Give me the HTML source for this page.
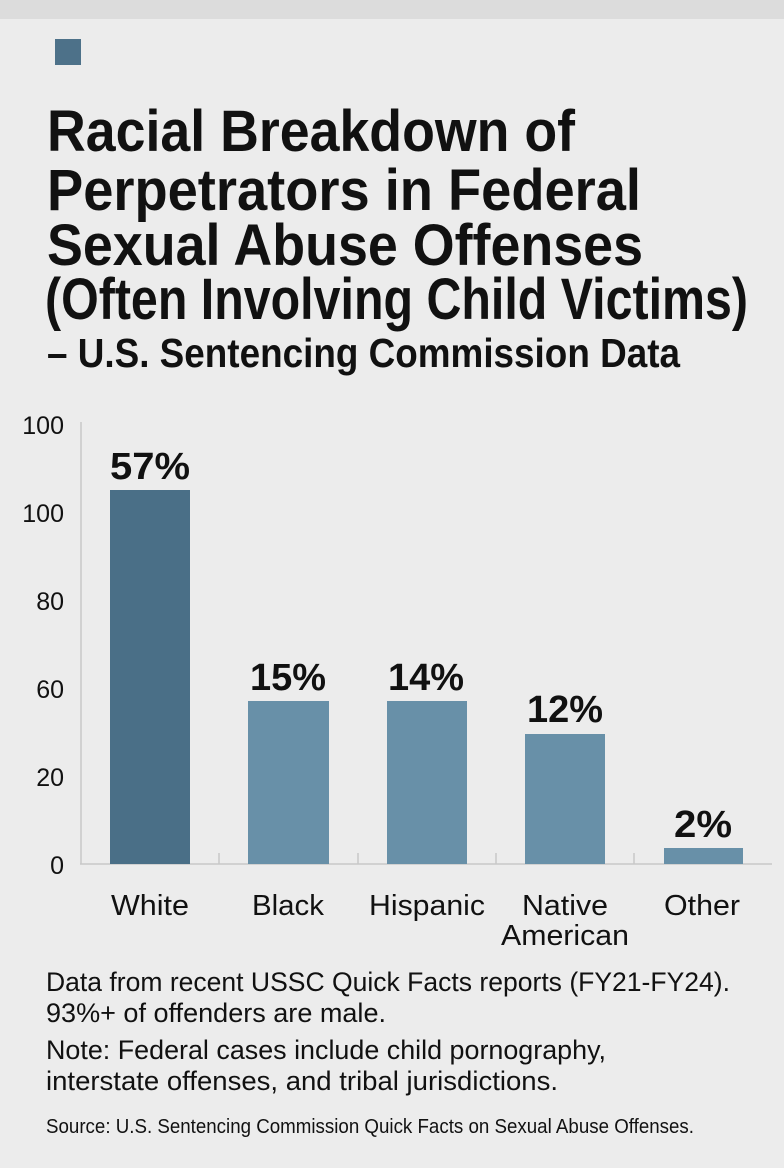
<!DOCTYPE html>
<html><head><style>
html,body{margin:0;padding:0;background:#ececec;}
svg{display:block;}
text{font-family:"Liberation Sans",sans-serif;fill:#111;}
</style></head><body>
<svg width="784" height="1168" viewBox="0 0 784 1168" xmlns="http://www.w3.org/2000/svg">
<rect x="0" y="0" width="784" height="1168" fill="#ececec"/>
<rect x="0" y="0" width="784" height="19" fill="#dcdcdc"/>
<rect x="55" y="39" width="26" height="26" fill="#4d7189"/>
<g font-weight="bold" font-size="58">
<text x="47" y="151" textLength="528" lengthAdjust="spacingAndGlyphs">Racial Breakdown of</text>
<text x="47" y="210" textLength="594" lengthAdjust="spacingAndGlyphs">Perpetrators in Federal</text>
<text x="47" y="265" textLength="596" lengthAdjust="spacingAndGlyphs">Sexual Abuse Offenses</text>
<text x="45" y="319" textLength="703" lengthAdjust="spacingAndGlyphs">(Often Involving Child Victims)</text>
</g>
<text x="47" y="367" font-weight="bold" font-size="41" textLength="633" lengthAdjust="spacingAndGlyphs">– U.S. Sentencing Commission Data</text>
<g font-size="25" fill="#222" text-anchor="end">
<text x="64" y="434">100</text>
<text x="64" y="522">100</text>
<text x="64" y="610">80</text>
<text x="64" y="698">60</text>
<text x="64" y="786">20</text>
<text x="64" y="874">0</text>
</g>
<line x1="81" y1="422" x2="81" y2="864" stroke="#c8c8c8" stroke-width="1.5"/>
<line x1="80" y1="864" x2="772" y2="864" stroke="#c8c8c8" stroke-width="1.5"/>
<g stroke="#c8c8c8" stroke-width="1.5">
<line x1="219" y1="853" x2="219" y2="864"/><line x1="358" y1="853" x2="358" y2="864"/>
<line x1="496" y1="853" x2="496" y2="864"/><line x1="634" y1="853" x2="634" y2="864"/>
</g>
<rect x="110" y="490" width="80" height="374" fill="#4a6f87"/>
<rect x="248" y="701" width="81" height="163" fill="#6890a8"/>
<rect x="387" y="701" width="80" height="163" fill="#6890a8"/>
<rect x="525" y="734" width="80" height="130" fill="#6890a8"/>
<rect x="664" y="848" width="79" height="16" fill="#6890a8"/>
<g font-size="38" font-weight="bold" text-anchor="middle">
<text x="150" y="479" textLength="80" lengthAdjust="spacingAndGlyphs">57%</text>
<text x="288" y="690" textLength="76" lengthAdjust="spacingAndGlyphs">15%</text>
<text x="426" y="690" textLength="76" lengthAdjust="spacingAndGlyphs">14%</text>
<text x="565" y="722" textLength="76" lengthAdjust="spacingAndGlyphs">12%</text>
<text x="703" y="837" textLength="58" lengthAdjust="spacingAndGlyphs">2%</text>
</g>
<g font-size="29" text-anchor="middle" fill="#111">
<text x="150" y="915" textLength="78" lengthAdjust="spacingAndGlyphs">White</text>
<text x="288" y="915" textLength="72" lengthAdjust="spacingAndGlyphs">Black</text>
<text x="427" y="915" textLength="116" lengthAdjust="spacingAndGlyphs">Hispanic</text>
<text x="565" y="915" textLength="86" lengthAdjust="spacingAndGlyphs">Native</text>
<text x="565" y="945" textLength="128" lengthAdjust="spacingAndGlyphs">American</text>
<text x="702" y="915" textLength="76" lengthAdjust="spacingAndGlyphs">Other</text>
</g>
<g font-size="27" fill="#111">
<text x="46" y="991" textLength="684" lengthAdjust="spacingAndGlyphs">Data from recent USSC Quick Facts reports (FY21-FY24).</text>
<text x="46" y="1022" textLength="340" lengthAdjust="spacingAndGlyphs">93%+ of offenders are male.</text>
<text x="46" y="1059" textLength="560" lengthAdjust="spacingAndGlyphs">Note: Federal cases include child pornography,</text>
<text x="46" y="1090" textLength="512" lengthAdjust="spacingAndGlyphs">interstate offenses, and tribal jurisdictions.</text>
</g>
<text x="46" y="1133" font-size="20" fill="#111" textLength="648" lengthAdjust="spacingAndGlyphs">Source: U.S. Sentencing Commission Quick Facts on Sexual Abuse Offenses.</text>
</svg>
</body></html>
